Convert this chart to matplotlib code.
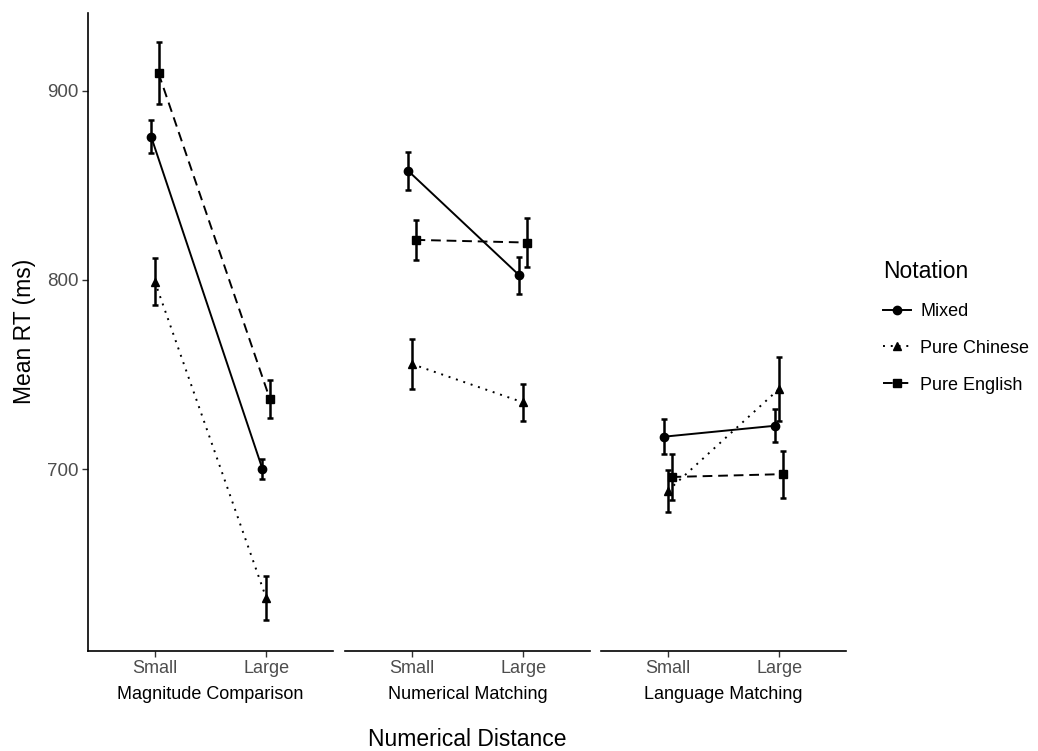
import matplotlib
matplotlib.use("Agg")
import matplotlib.pyplot as plt
from matplotlib.lines import Line2D

plt.rcParams["font.family"] = ["Liberation Sans", "DejaVu Sans"]

# Data
tasks = ["Magnitude Comparison", "Numerical Matching", "Language Matching"]
distances = ["Small", "Large"]
notations = ["Mixed", "Pure Chinese", "Pure English"]

mixed_mean = [[875.7, 700.0], [857.6, 802.3], [717.1, 722.9]]
mixed_se = [[8.8, 5.5], [10.0, 10.0], [9.4, 8.7]]
chinese_mean = [[799.1, 631.9], [755.5, 735.2], [688.5, 742.4]]
chinese_se = [[12.3, 11.7], [13.0, 10.0], [11.0, 17.0]]
english_mean = [[909.2, 737.0], [821.1, 819.7], [695.8, 697.3]]
english_se = [[16.5, 10.0], [10.7, 12.8], [12.0, 12.4]]

means = [mixed_mean, chinese_mean, english_mean]
ses = [mixed_se, chinese_se, english_se]
markers = ["o", "^", "s"]
styles = ["-", (0, (1, 3)), (0, (5, 3))]
offsets = [-0.0333, 0.0, 0.0333]

W, H = 1038, 751
fig = plt.figure(figsize=(W / 100, H / 100), dpi=100)

panel_left = [88, 345, 601]
panel_w = 245
bottom_px, top_px = 650.7, 13

tick_grey = "#4D4D4D"
axes = []
for i, task in enumerate(tasks):
    ax = fig.add_axes([panel_left[i] / W, 1 - bottom_px / H,
                       panel_w / W, (bottom_px - top_px) / H])
    axes.append(ax)
    for j, name in enumerate(notations):
        xs = [k + offsets[j] for k in range(len(distances))]
        ax.errorbar(xs, means[j][i], yerr=ses[j][i], color="black",
                    linestyle=styles[j], linewidth=1.4, marker=markers[j],
                    markersize=6, capsize=2.5, elinewidth=1.8, capthick=1.8)
    ax.set_xlim(-0.6, 1.6)
    ax.set_ylim(604, 941)
    ax.set_xticks(range(len(distances)))
    ax.set_xticklabels(distances, fontsize=13, color=tick_grey)
    ax.set_xlabel(task, fontsize=13, color="black", labelpad=6)
    ax.set_yticks([700, 800, 900])
    for s in ["top", "right"]:
        ax.spines[s].set_visible(False)
    ax.spines["bottom"].set_linewidth(1.2)
    ax.spines["left"].set_linewidth(1.2)
    ax.tick_params(axis="x", length=4, width=1, color="#333333", pad=3)
    if i == 0:
        ax.tick_params(axis="y", length=4, width=1, color="#333333",
                       labelsize=13.5, labelcolor=tick_grey, pad=3)
        ax.set_ylabel("Mean RT (ms)", fontsize=16.5, labelpad=8)
    else:
        ax.spines["left"].set_visible(False)
        ax.tick_params(axis="y", left=False, labelleft=False)

fig.text(467 / W, 1 - 739 / H, "Numerical Distance", fontsize=16.5,
         ha="center", va="center")

handles = [Line2D([0], [0], color="black", linestyle=styles[j], linewidth=1.4,
                  marker=markers[j], markersize=6) for j in range(3)]
leg = fig.legend(handles, notations, title="Notation", loc="upper left",
                 bbox_to_anchor=(883 / W, 1 - 260 / H), frameon=False,
                 borderpad=0, borderaxespad=0,
                 fontsize=13, title_fontsize=16.5, handlelength=1.55,
                 handletextpad=0.5, labelspacing=1.1)
leg._legend_box.align = "left"

fig.savefig("out.png", dpi=100)
